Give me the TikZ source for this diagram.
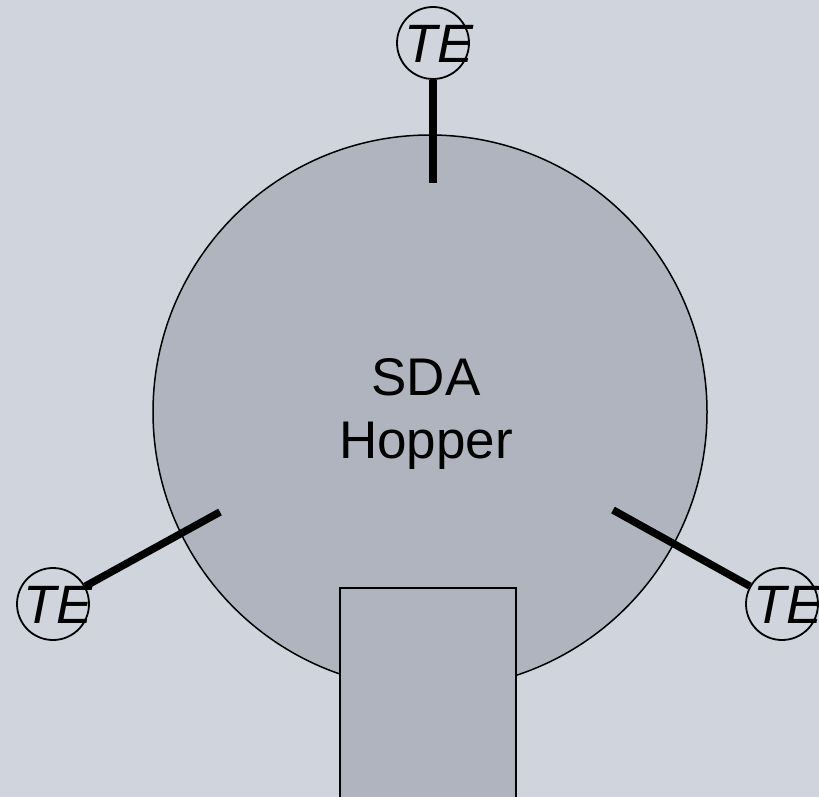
\documentclass[tikz,border=0pt]{standalone}
\usepackage{fontspec}
\setmainfont{Liberation Sans}
\definecolor{panelbg}{RGB}{208,212,220}
\definecolor{vesselfill}{RGB}{176,180,191}
\begin{document}
\begin{tikzpicture}[x=1pt,y=-1pt,
  vessel/.style={circle,draw=black,line width=1.5pt,fill=vesselfill,minimum size=554pt,inner sep=0pt},
  outlet/.style={draw=black,line width=2.2pt,fill=vesselfill},
  probe/.style={circle,draw=black,line width=1.8pt,minimum size=72pt,inner sep=0pt},
  probetext/.style={inner sep=0pt,font=\fontsize{54}{60}\selectfont\itshape},
  stem/.style={line width=7.5pt},
  vesseltext/.style={align=center,font=\fontsize{53}{63}\selectfont}]
  % canvas
  \fill[panelbg] (0,0) rectangle (819,797);
  \useasboundingbox (0,0) rectangle (819,797);
  % hopper body
  \node[vessel] (hopper) at (430,412) {};
  \node[vesseltext] (hopperlabel) at (426,414) {SDA\\Hopper};
  % temperature elements
  \node[probe] (teTop) at (433,43) {};
  \node[probe] (teLeft) at (53,604) {};
  \node[probe] (teRight) at (782,604) {};
  % thermowell tips inside the hopper
  \coordinate (tipTop) at (433,183);
  \coordinate (tipLeft) at (220,512);
  \coordinate (tipRight) at (613,510);
  \draw[stem] (tipTop) -- (teTop);
  \draw[stem] (tipLeft) -- (teLeft);
  \draw[stem] (tipRight) -- (teRight);
  % outlet chute
  \path[outlet] (340,588) -- (516,588) -- (516,800) -- (340,800) -- cycle;
  % instrument tags
  \node[probetext] (teTopTag) at ([xshift=6pt,yshift=-1pt]teTop.center) {TE};
  \node[probetext] (teLeftTag) at ([xshift=5pt,yshift=-1pt]teLeft.center) {TE};
  \node[probetext] (teRightTag) at ([xshift=6pt,yshift=-1pt]teRight.center) {TE};
\end{tikzpicture}
\end{document}
